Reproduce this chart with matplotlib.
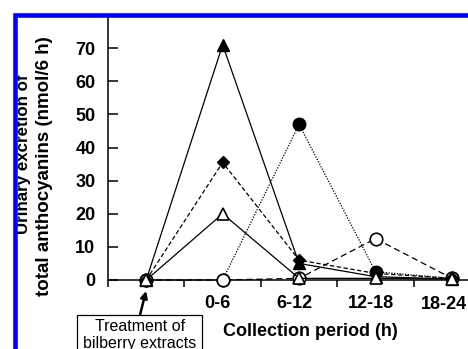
import matplotlib
matplotlib.use("Agg")
import matplotlib.pyplot as plt
from matplotlib.lines import Line2D
from matplotlib.patches import Rectangle
import matplotlib.transforms as mtransforms

plt.rcParams['font.family'] = ['Liberation Sans', 'DejaVu Sans']

categories = ["0-6", "6-12", "12-18", "18-24"]
x_pos = [0, 1, 2, 3, 4]  # 0 = treatment time

s_filled_tri = [0, 71, 5, 1, 0.3]
s_diamond = [0, 35.5, 6, 2, 0.5]
s_open_tri = [0, 20, 0.5, 0.5, 0.3]
s_filled_circ = [0, 0, 47, 2.5, 0.5]
s_open_circ = [0, 0, 0.5, 12.5, 0.5]

W, H = 468, 349
fig = plt.figure(figsize=(W / 100, H / 100), dpi=100)
ax = fig.add_axes([108 / W, (H - 280) / H, 1 - 108 / W, (280 - 17) / H])

ax.set_xlim(-0.5, 4.21)
ax.set_ylim(0, 79.4)

kw = dict(color='black', lw=0.9, clip_on=False)
ax.plot(x_pos, s_filled_circ, linestyle=(0, (1, 1.2)), marker='o', ms=9,
        mfc='black', mec='black', zorder=3, **kw)
ax.plot(x_pos, s_open_circ, linestyle=(0, (5, 3)), marker='o', ms=9,
        mfc='white', mec='black', mew=1.2, zorder=4, **kw)
ax.plot(x_pos, s_diamond, linestyle=(0, (3.5, 2)), marker='D', ms=6,
        mfc='black', mec='black', zorder=5, **kw)
ax.plot(x_pos, s_filled_tri, linestyle='-', marker='^', ms=8,
        mfc='black', mec='black', zorder=6, **kw)
ax.plot(x_pos, s_open_tri, linestyle='-', marker='^', ms=9,
        mfc='white', mec='black', mew=1.2, zorder=7, **kw)

for sp in ['top', 'right']:
    ax.spines[sp].set_visible(False)
for sp in ['left', 'bottom']:
    ax.spines[sp].set_linewidth(1.1)

ax.set_yticks(range(0, 80, 10))
ax.tick_params(axis='y', direction='in', length=7, width=1.1, pad=9,
               labelsize=13)
for lab in ax.get_yticklabels():
    lab.set_fontweight('bold')

ax.set_xticks([-0.5, 0.5, 1.5, 2.5, 3.5])
ax.set_xticklabels([])
ax.tick_params(axis='x', direction='out', length=5, width=1.1)
shift = mtransforms.offset_copy(ax.transData, fig=fig, x=-5, y=0, units='dots')
for xp, c in zip(x_pos[1:4], categories[:3]):
    ax.text(xp, -4.6, c, ha='center', va='top', fontsize=13,
            fontweight='bold', transform=shift)
fig.text(467 / W, (H - 296) / H, categories[3], ha='right', va='top',
         fontsize=13, fontweight='bold')

fig.text(310 / W, (H - 331) / H, "Collection period (h)", ha='center',
         va='center', fontsize=13, fontweight='bold')

fig.text(24 / W, (H - 154) / H, "Urinary excretion of", rotation=90,
         ha='center', va='center', fontsize=12.2, fontweight='bold')
fig.text(45 / W, (H - 166) / H, "total anthocyanins (nmol/6 h)", rotation=90,
         ha='center', va='center', fontsize=13.5, fontweight='bold')

# annotation box
fig.add_artist(Rectangle((77, -10), 125, H - 315 + 10, transform=None,
                         fc='white', ec='black', lw=0.9, zorder=10))
fig.text(140 / W, (H - 335) / H, "Treatment of\nbilberry extracts",
         ha='center', va='center', fontsize=11.5, linespacing=1.15,
         zorder=11)
ax.annotate("", xy=(146, H - 291), xycoords='figure pixels',
            xytext=(140, H - 315), textcoords='figure pixels',
            arrowprops=dict(arrowstyle='-|>', color='black', lw=1.8,
                            mutation_scale=10, shrinkA=0, shrinkB=0))

# blue frame
fig.add_artist(Line2D([15, 15, W + 10], [-10, H - 15, H - 15],
                      transform=None, color='#0000ff', lw=3.3,
                      solid_joinstyle='miter', zorder=20))

fig.savefig("out.png", dpi=100)
